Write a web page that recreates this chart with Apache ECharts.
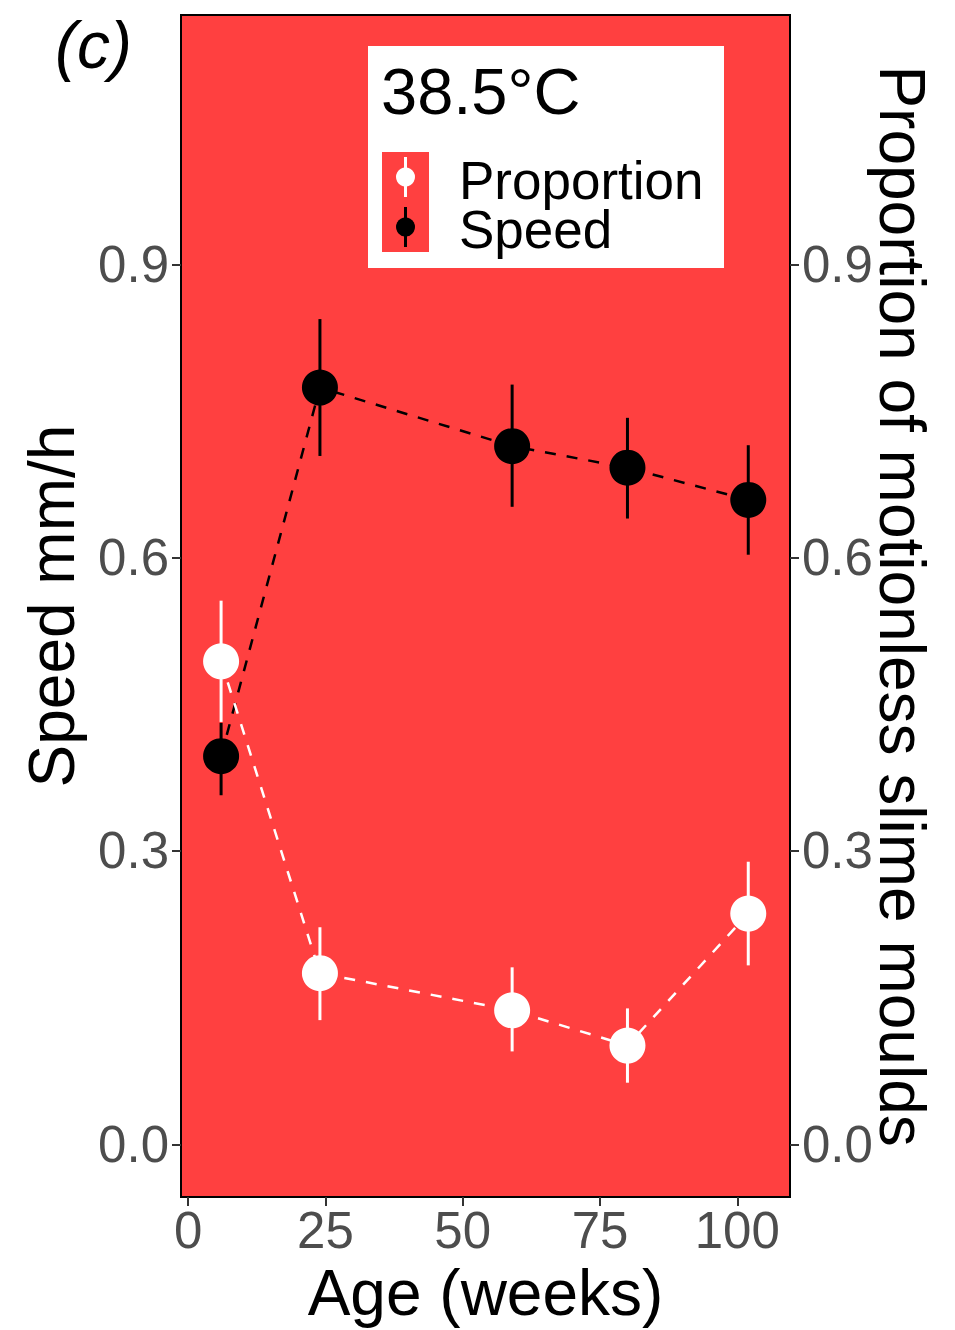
<!DOCTYPE html>
<html><head><meta charset="utf-8">
<script src="https://cdn.jsdelivr.net/npm/echarts@6/dist/echarts.min.js"></script>
<style>html,body{margin:0;padding:0;background:#fff;overflow:hidden}#c{width:955px;height:1330px;overflow:hidden}#c svg{display:block}</style>
</head><body><div id="c"></div>
<script>
// ---- data ----
const ages = [6, 24, 59, 80, 102];
const speed = [0.397, 0.774, 0.714, 0.692, 0.659];
const speedLow = [0.357, 0.704, 0.652, 0.640, 0.603];
const speedHigh = [0.431, 0.844, 0.777, 0.743, 0.715];
const proportion = [0.494, 0.175, 0.137, 0.101, 0.236];
const proportionLow = [0.432, 0.127, 0.095, 0.063, 0.183];
const proportionHigh = [0.556, 0.222, 0.181, 0.139, 0.289];
const xTicks = [0, 25, 50, 75, 100];
const yTicks = [0.0, 0.3, 0.6, 0.9];
const seriesNames = ['Proportion', 'Speed'];
const seriesColors = ['#FFFFFF', '#000000'];
const legendTitle = '38.5°C';
const panelLabel = '(c)';
const xTitle = 'Age (weeks)';
const yLeftTitle = 'Speed mm/h';
const yRightTitle = 'Proportion of motionless slime moulds';

const FONT = '"Liberation Sans", Arial, Helvetica, sans-serif';
const BG = '#FF4040';
const TICKCOL = '#333333';
const LABCOL = '#4D4D4D';

const pairs = (xs, ys) => xs.map((x, i) => [x, ys[i]]);
const bars = (xs, lo, hi) => xs.map((x, i) => [x, lo[i], hi[i]]);

function errRender(color) {
  return function (params, api) {
    const p1 = api.coord([api.value(0), api.value(1)]);
    const p2 = api.coord([api.value(0), api.value(2)]);
    return {
      type: 'line',
      shape: { x1: p1[0], y1: p1[1], x2: p2[0], y2: p2[1] },
      style: { stroke: color, lineWidth: 3 }
    };
  };
}

// legend drawn as graphic elements (key box + point-with-bar glyphs + labels)
const legendGraphics = [
  { type: 'rect', z: 10, shape: { x: 368, y: 46, width: 356, height: 222 }, style: { fill: '#fff' } },
  { type: 'rect', z: 11, shape: { x: 382, y: 152, width: 47, height: 100 }, style: { fill: BG } },
  { type: 'text', z: 11, x: 381, y: 91, style: { text: legendTitle, fontSize: 65, lineHeight: 66, fontFamily: FONT, fill: '#000', align: 'left', verticalAlign: 'middle' } },
  { type: 'text', z: 12, x: 459, y: 205, style: { text: seriesNames.join('\n'), fontSize: 53, lineHeight: 49, fontFamily: FONT, fill: '#000', align: 'left', verticalAlign: 'middle' } }
];
seriesNames.forEach((name, i) => {
  const cy = 177 + i * 50;
  legendGraphics.push(
    { type: 'line', z: 12, shape: { x1: 405.5, y1: cy - 20, x2: 405.5, y2: cy + 20 }, style: { stroke: seriesColors[i], lineWidth: 3 } },
    { type: 'circle', z: 13, shape: { cx: 405.5, cy: cy, r: 9.5 }, style: { fill: seriesColors[i] } }
  );
});

const chart = echarts.init(document.getElementById('c'), null, { renderer: 'svg' });
const yAxisCommon = {
  type: 'value', min: -0.054, max: 1.155,
  axisLine: { show: false, onZero: false }, splitLine: { show: false },
  axisTick: { show: true, customValues: yTicks, length: 9, lineStyle: { color: TICKCOL, width: 2 } },
  axisLabel: { customValues: yTicks, formatter: v => Number(v).toFixed(1), fontSize: 51, color: LABCOL, fontFamily: FONT, margin: 12 },
  nameLocation: 'middle', nameMoveOverlap: false,
  nameTextStyle: { fontSize: 64, color: '#000', fontFamily: FONT }
};

chart.setOption({
  animation: false,
  backgroundColor: '#fff',
  title: {
    text: panelLabel, left: 55, top: 12, padding: 0,
    textStyle: { fontStyle: 'italic', fontWeight: 'normal', fontSize: 66, color: '#000', fontFamily: FONT }
  },
  grid: {
    left: 181, right: 165, top: 15, bottom: 130, show: true,
    backgroundColor: BG, borderColor: '#000', borderWidth: 2, containLabel: false
  },
  xAxis: {
    type: 'value', min: -1.3, max: 109.6,
    axisLine: { show: false, onZero: false }, splitLine: { show: false },
    axisTick: { show: true, customValues: xTicks, length: 9, lineStyle: { color: TICKCOL, width: 2 } },
    axisLabel: { customValues: xTicks, fontSize: 51, color: LABCOL, fontFamily: FONT, margin: 8 },
    name: xTitle, nameLocation: 'middle', nameGap: 60,
    nameTextStyle: { fontSize: 64, color: '#000', fontFamily: FONT }
  },
  yAxis: [
    Object.assign({}, yAxisCommon, { position: 'left', name: yLeftTitle, nameGap: 97, nameRotate: 90 }),
    Object.assign({}, yAxisCommon, { position: 'right', name: yRightTitle, nameGap: 80, nameRotate: -90 })
  ],
  graphic: legendGraphics,
  series: [
    { name: 'speedLine', type: 'line', data: pairs(ages, speed), showSymbol: false, symbol: 'none', z: 2,
      lineStyle: { color: seriesColors[1], width: 2.5, type: [11, 11] }, silent: true },
    { name: 'proportionLine', type: 'line', data: pairs(ages, proportion), showSymbol: false, symbol: 'none', z: 2,
      lineStyle: { color: seriesColors[0], width: 2.5, type: [11, 11] }, silent: true },
    { name: 'speedErr', type: 'custom', data: bars(ages, speedLow, speedHigh), encode: { x: 0, y: [1, 2] },
      renderItem: errRender(seriesColors[1]), z: 3, silent: true },
    { name: 'proportionErr', type: 'custom', data: bars(ages, proportionLow, proportionHigh), encode: { x: 0, y: [1, 2] },
      renderItem: errRender(seriesColors[0]), z: 3, silent: true },
    { name: seriesNames[1], type: 'scatter', data: pairs(ages, speed), symbolSize: 36, z: 4,
      itemStyle: { color: seriesColors[1], opacity: 1 } },
    { name: seriesNames[0], type: 'scatter', data: pairs(ages, proportion), symbolSize: 36, z: 4,
      itemStyle: { color: seriesColors[0], opacity: 1 } }
  ]
});
</script></body></html>
